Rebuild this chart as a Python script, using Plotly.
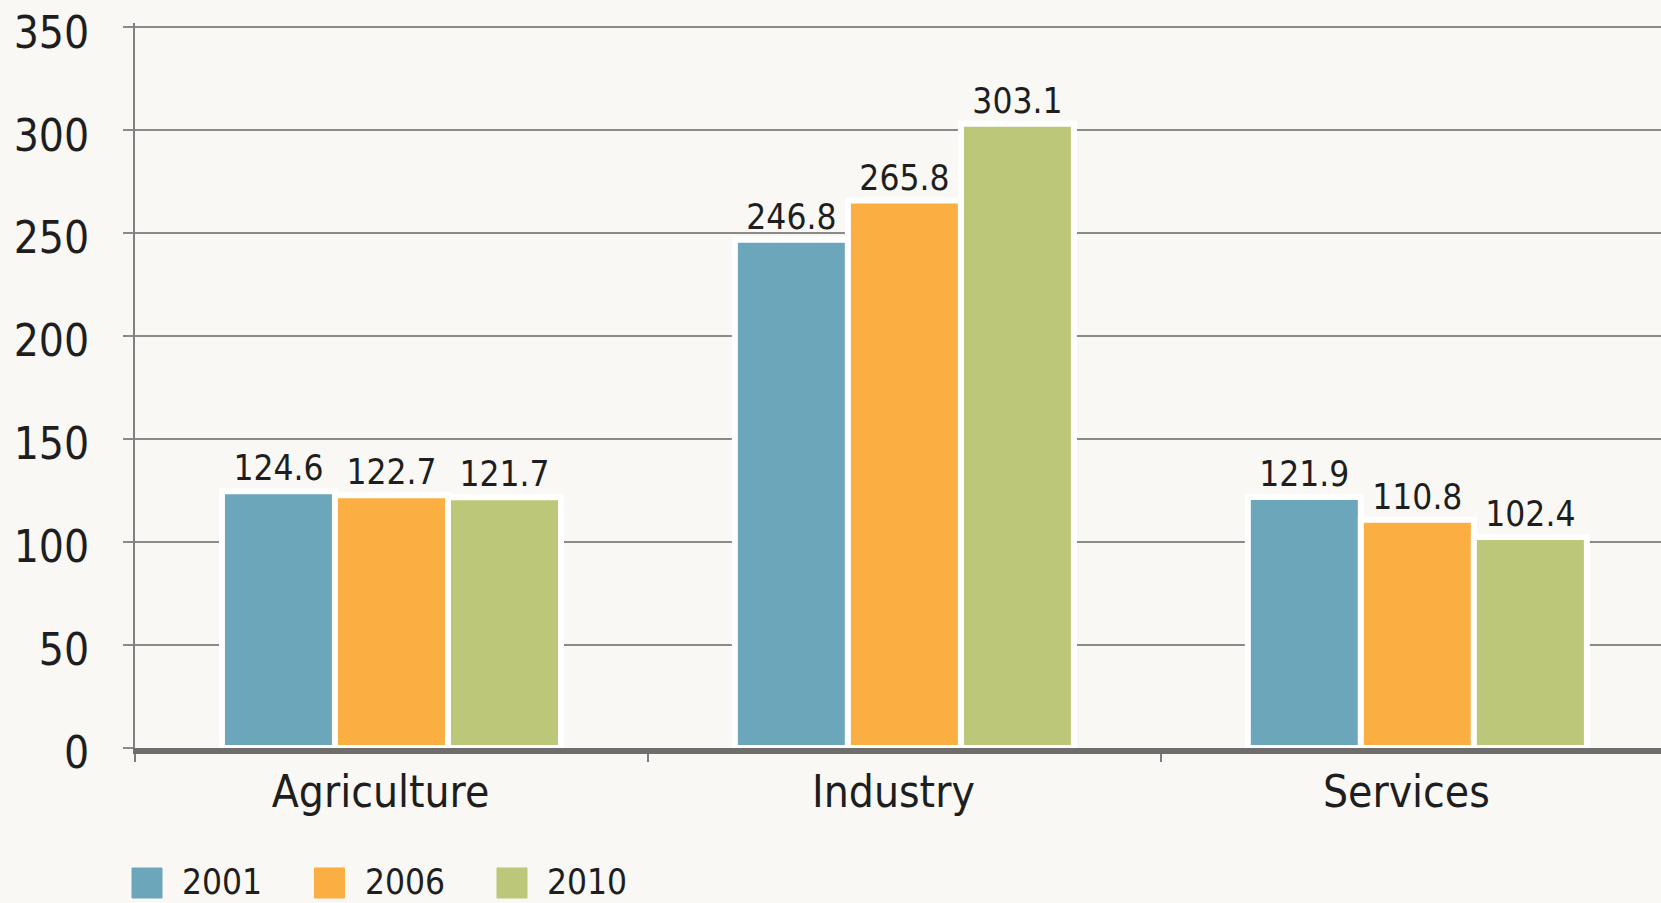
import plotly.graph_objects as go

categories = ["Agriculture", "Industry", "Services"]
years = ["2001", "2006", "2010"]
values_2001 = [124.6, 246.8, 121.9]
values_2006 = [122.7, 265.8, 110.8]
values_2010 = [121.7, 303.1, 102.4]
colors = ["#6ca6bb", "#fbae41", "#bcc77a"]
y_ticks = [0, 50, 100, 150, 200, 250, 300, 350]

series = [values_2001, values_2006, values_2010]

FONT = "DejaVu Sans Condensed, Liberation Sans, sans-serif"
BG = "#f9f8f5"
TXT = "#1e1e1e"
W, H = 1661, 903
ML, MR, MT, MB = 135, 0, 23, 155
Y_MAX = 352

fig = go.Figure()
for name, vals, col in zip(years, series, colors):
    fig.add_trace(go.Bar(
        x=categories, y=vals, name=name,
        marker=dict(color=col, line=dict(color="#ffffff", width=6)),
        texttemplate="%{y:.1f}", textposition="outside",
        textfont=dict(family=FONT, size=35, color=TXT),
        constraintext="none", cliponaxis=False, showlegend=False,
    ))

# custom legend (large square swatches)
pw = W - ML - MR
ph = H - MT - MB
def px_to_paper_x(px):
    return (px - ML) / pw
def px_to_paper_y(py):
    return (H - MB - py) / ph

for i, (name, col) in enumerate(zip(years, colors)):
    left = 132 + i * 182.5
    fig.add_shape(type="rect", xref="paper", yref="paper",
                  x0=px_to_paper_x(left), x1=px_to_paper_x(left + 30),
                  y0=px_to_paper_y(898), y1=px_to_paper_y(868),
                  fillcolor=col, line=dict(color=col, width=1))
    fig.add_annotation(xref="paper", yref="paper",
                       x=px_to_paper_x(left + 48), y=px_to_paper_y(882),
                       xanchor="left", yanchor="middle", showarrow=False,
                       text=name, font=dict(family=FONT, size=35, color=TXT))

fig.update_layout(
    width=W, height=H,
    margin=dict(l=ML, r=MR, t=MT, b=MB, pad=0),
    paper_bgcolor=BG, plot_bgcolor=BG,
    barmode="group", bargap=0.339, bargroupgap=0,
    font=dict(family=FONT, color=TXT),
)
fig.update_xaxes(
    range=[-0.5, 2.475], showgrid=False,
    showline=True, linecolor="#6e6e6e", linewidth=6,
    ticks="outside", tickson="boundaries", ticklen=8, tickwidth=2, tickcolor="#7d7d7d",
    ticklabelshift=-11,
    tickfont=dict(family=FONT, size=44, color=TXT),
)
fig.update_yaxes(
    range=[0, Y_MAX], tickvals=y_ticks,
    showgrid=True, gridcolor="#8a8a8a", gridwidth=2,
    showline=True, linecolor="#808080", linewidth=2,
    ticks="outside", ticklen=10, tickwidth=2, tickcolor="#8a8a8a",
    ticklabelstandoff=25, ticklabelshift=5,
    tickfont=dict(family=FONT, size=44, color=TXT),
    zeroline=False,
)

fig.write_html("out.html", config={"displayModeBar": False},
               post_script="document.body.style.margin='0';document.body.style.padding='0';")
